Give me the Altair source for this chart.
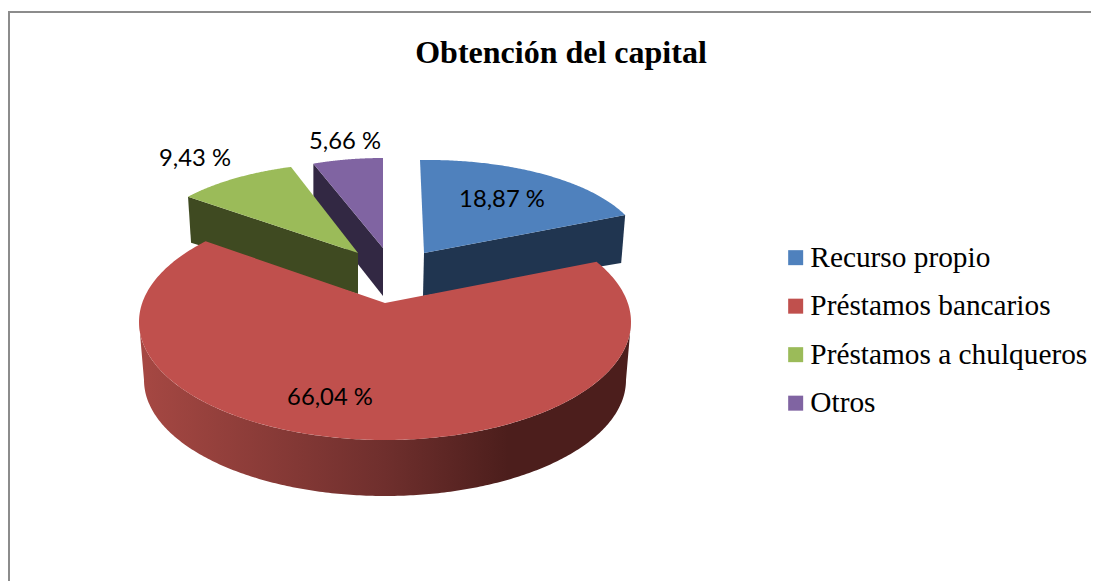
import math
import altair as alt
import pandas as pd

TITLE = "Obtención del capital"
categories = ["Recurso propio", "Préstamos bancarios", "Préstamos a chulqueros", "Otros"]
values = [18.87, 66.04, 9.43, 5.66]
top_colors = ["#4f81bd", "#c0504d", "#9bbb59", "#8064a2"]
wall_colors = ["#203550", "#5a2422", "#3f4a21", "#322843"]

label_x = [502, 330, 195, 345]
label_y = [200, 398, 159, 142]

# cumulative angles derived from the values
edges = [0.0]
for v in values:
    edges.append(edges[-1] + v * 3.6)
edges[-1] = 360.0

X = alt.Scale(domain=[8, 1091], nice=False, zero=False)
Y = alt.Scale(domain=[581, 8], nice=False, zero=False)
N = 120


def frame(pts, name):
    return pd.DataFrame({"x": [p[0] for p in pts], "y": [p[1] for p in pts],
                         "o": range(len(pts)), "cat": name})


def poly(pts, name, fill=None, legend=False):
    d = frame(pts, name)
    enc = dict(x=alt.X("x:Q", scale=X, axis=None),
               y=alt.Y("y:Q", scale=Y, axis=None),
               order="o:Q")
    if legend:
        enc["fill"] = alt.Fill(
            "cat:N",
            scale=alt.Scale(domain=categories, range=top_colors),
            legend=alt.Legend(
                title=None, orient="none", legendX=773, legendY=235,
                symbolType="square", symbolSize=225, symbolStrokeWidth=0,
                labelFont="Liberation Serif", labelFontSize=29.33, labelColor="#000000",
                labelOffset=0, rowPadding=18.5, labelLimit=400,
                values=categories,
            ),
        )
        m = alt.Chart(d).mark_line(interpolate="linear-closed", strokeWidth=0, stroke="transparent")
    else:
        m = alt.Chart(d).mark_line(interpolate="linear-closed", strokeWidth=0, stroke="transparent", fill=fill)
    return m.encode(**enc)


def sector(i, ax, ay, A, B, C, D):
    a0, a1 = edges[i], edges[i + 1]
    pts = [(ax, ay)]
    for k in range(N + 1):
        a = math.radians(a0 + (a1 - a0) * k / N)
        pts.append((ax + A * math.sin(a) + B * math.cos(a),
                    ay - C * math.cos(a) + D * math.sin(a)))
    return pts


# --- exploded back slices ---
blue = sector(0, 424, 253, 218.7, -4, 93, -3.2)
green = sector(2, 358, 253, 215.4, 8.6, 90.2, 4.5)
purple = sector(3, 383, 248, 200, 0, 90, 0)

blue_wall = [blue[0], blue[-1], (blue[-1][0] - 4, blue[-1][1] + 48), (blue[0][0] - 1, blue[0][1] + 43)]
green_wall = [green[1], green[0], (green[0][0], green[0][1] + 41), (green[1][0] + 3, green[1][1] + 46)]
purple_wall = [purple[1], purple[0], (purple[0][0], purple[0][1] + 48), (purple[1][0], purple[1][1] + 44)]

# --- front slice: rays from the apex onto an ellipse in perspective ---
ECX, ECY, ERX, ERY = 385, 322, 246, 118
RAX, RAY = 385, 303


def ray(a_deg):
    a = math.radians(a_deg)
    dx, dy = ERX * math.sin(a), -ERY * math.cos(a)
    ox, oy = RAX - ECX, RAY - ECY
    qa = (dx / ERX) ** 2 + (dy / ERY) ** 2
    qb = 2 * (ox * dx / ERX ** 2 + oy * dy / ERY ** 2)
    qc = (ox / ERX) ** 2 + (oy / ERY) ** 2 - 1
    s = (-qb + math.sqrt(qb * qb - 4 * qa * qc)) / (2 * qa)
    return (RAX + s * dx, RAY + s * dy)


red = [(RAX, RAY)] + [ray(edges[1] + (edges[2] - edges[1]) * k / 300) for k in range(301)]

LCY, LRX, LRY = 380, 241, 116
red_wall = []
for k in range(241):
    t = math.radians(90 + 180 * k / 240)
    red_wall.append((ECX + ERX * math.sin(t), ECY - ERY * math.cos(t)))
for k in range(241):
    t = math.radians(270 - 180 * k / 240)
    red_wall.append((ECX + LRX * math.sin(t), LCY - LRY * math.cos(t)))

red_gradient = alt.Gradient(
    gradient="linear", x1=0, x2=1, y1=0, y2=0,
    stops=[
        alt.GradientStop(color="#a64843", offset=0),
        alt.GradientStop(color="#6f2f2d", offset=0.5),
        alt.GradientStop(color="#4c1e1c", offset=0.75),
        alt.GradientStop(color="#4c1e1c", offset=1),
    ],
)

layers = [
    poly(purple_wall, "w3", wall_colors[3]),
    poly(purple, categories[3], legend=True),
    poly(green_wall, "w2", wall_colors[2]),
    poly(green, categories[2], legend=True),
    poly(blue_wall, "w0", wall_colors[0]),
    poly(blue, categories[0], legend=True),
    poly(red_wall, "w1", red_gradient),
    poly(red, categories[1], legend=True),
]

# --- chart frame ---
frame_df = pd.DataFrame({"x": [9, 8], "x2": [9, 1091], "y": [12, 12], "y2": [581, 12]})
border = alt.Chart(frame_df).mark_rule(color="#8c8c8c", strokeWidth=2).encode(
    x=alt.X("x:Q", scale=X, axis=None), x2="x2:Q",
    y=alt.Y("y:Q", scale=Y, axis=None), y2="y2:Q",
)

labels_df = pd.DataFrame({
    "x": label_x, "y": label_y,
    "t": [f"{v:.2f} %".replace(".", ",") for v in values],
})
labels = alt.Chart(labels_df).mark_text(
    font="Lato", fontSize=23.8, color="#000000", align="center", baseline="middle"
).encode(
    x=alt.X("x:Q", scale=X, axis=None),
    y=alt.Y("y:Q", scale=Y, axis=None),
    text="t:N",
)

chart = alt.layer(border, *layers, labels).properties(
    width=1083, height=573,
    padding=0,
    autosize=alt.AutoSizeParams(type="none"),
    background="#ffffff",
    title=alt.TitleParams(
        TITLE, font="Liberation Serif", fontSize=32, fontWeight="bold", color="#000000",
        anchor="middle", dx=11.5, dy=62, offset=0,
    ),
).configure_view(stroke=None)

chart.save("out.html", embed_options={"renderer": "svg", "actions": False})
